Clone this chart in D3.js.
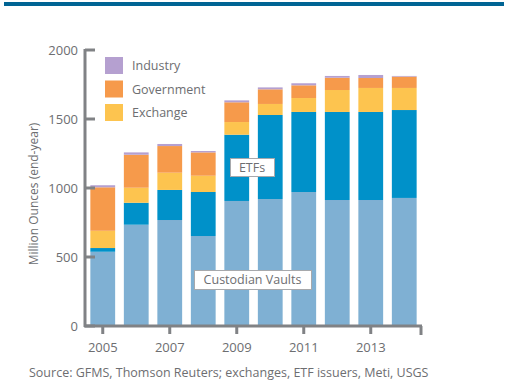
<!DOCTYPE html>
<html><head><meta charset="utf-8">
<script src="https://cdn.jsdelivr.net/npm/d3@7"></script>
<style>body{margin:0;background:#fff}svg{display:block}text{font-family:"Open Sans","DejaVu Sans",sans-serif;fill:#6d6e71}</style>
</head><body><svg id="c" width="506" height="389"></svg>
<script>
const years = [2005,2006,2007,2008,2009,2010,2011,2012,2013,2014];
const vaults = [538,734,768,652,906,920,971,913,913,928];
const etfs = [27,159,218,319,480,609,580,638,638,637];
const exchange = [125,109,125,118,92,80,101,159,174,160];
const government = [315,239,193,169,143,106,92,89,72,82];
const industry = [15,17,15,10,14,14,15,13,22,5];
const seriesNames = ["Custodian Vaults","ETFs","Exchange","Government","Industry"];
const colors = ["#7fb0d3","#0091c9","#fdc44f","#f69a4b","#b5a0d0"];
const yTicks = [0,500,1000,1500,2000];
const xTickYears = [2005,2007,2009,2011,2013];

const svg = d3.select("#c");
svg.append("rect").attr("x",4).attr("y",2).attr("width",500).attr("height",4).attr("fill","#006494");

const x0 = 85, x1 = 421, yTop = 50, yBot = 326;
const x = d3.scaleBand().domain(years).range([x0+1, x1]).paddingInner(0.26).paddingOuter(0.13);
const y = d3.scaleLinear().domain([0,2000]).range([yBot, yTop]);

const rows = years.map((yr,i)=>({year:yr, "Custodian Vaults":vaults[i], "ETFs":etfs[i], "Exchange":exchange[i], "Government":government[i], "Industry":industry[i]}));
const stacked = d3.stack().keys(seriesNames)(rows);
svg.append("g").selectAll("g").data(stacked).join("g").attr("fill",(d,i)=>colors[i])
  .selectAll("rect").data(d=>d).join("rect")
  .attr("x",d=>x(d.data.year)).attr("width",x.bandwidth())
  .attr("y",d=>y(d[1])).attr("height",d=>y(d[0])-y(d[1]));

const axisColor = "#808285";
// y axis
const ya = svg.append("g");
ya.append("line").attr("x1",x0).attr("x2",x0).attr("y1",yTop-1).attr("y2",yBot+1).attr("stroke",axisColor).attr("stroke-width",3);
ya.selectAll("line.t").data(yTicks).join("line").attr("class","t")
  .attr("x1",x0).attr("x2",x0+10).attr("y1",d=>y(d)).attr("y2",d=>y(d)).attr("stroke",axisColor).attr("stroke-width",3);
ya.selectAll("text").data(yTicks).join("text").attr("x",78).attr("y",d=>y(d)+5)
  .attr("text-anchor","end").attr("font-size",13).text(d=>d);
// x axis
const xa = svg.append("g");
xa.append("line").attr("x1",x0-1).attr("x2",x1+1).attr("y1",yBot).attr("y2",yBot).attr("stroke",axisColor).attr("stroke-width",3);
xa.selectAll("line.t").data(xTickYears).join("line").attr("class","t")
  .attr("x1",d=>x(d)+x.bandwidth()/2).attr("x2",d=>x(d)+x.bandwidth()/2).attr("y1",yBot).attr("y2",yBot+8).attr("stroke",axisColor).attr("stroke-width",3);
xa.append("line").attr("x1",x1).attr("x2",x1).attr("y1",yBot).attr("y2",yBot+9).attr("stroke",axisColor).attr("stroke-width",3);
xa.selectAll("text").data(xTickYears).join("text").attr("x",d=>x(d)+x.bandwidth()/2).attr("y",352)
  .attr("text-anchor","middle").attr("font-size",13).text(d=>d);

// y label
svg.append("text").attr("transform","translate(38,194) rotate(-90)").attr("text-anchor","middle").attr("font-size",12).text("Million Ounces (end-year)");

// legend
const legendItems = [["Industry",colors[4]],["Government",colors[3]],["Exchange",colors[2]]];
const lg = svg.append("g");
legendItems.forEach((d,i)=>{
  const yy = 57 + i*23.5;
  lg.append("rect").attr("x",105).attr("y",yy).attr("width",18).attr("height",17).attr("fill",d[1]);
  lg.append("text").attr("x",132).attr("y",yy+13).attr("font-size",12.5).text(d[0]);
});

// in-chart labels
function boxLabel(cx, cy, w, h, t){
  svg.append("rect").attr("x",cx-w/2+0.5).attr("y",cy-h/2+0.5).attr("width",w).attr("height",h).attr("fill","#fff").attr("stroke","#a7a9ac").attr("stroke-width",1);
  svg.append("text").attr("x",cx).attr("y",cy+4.5).attr("text-anchor","middle").attr("font-size",12.5).text(t);
}
boxLabel(252,167,44,18,"ETFs");
boxLabel(252.5,279.5,117,19,"Custodian Vaults");

svg.append("text").attr("x",29).attr("y",377).attr("font-size",12.5).text("Source: GFMS, Thomson Reuters; exchanges, ETF issuers, Meti, USGS");
</script></body></html>
